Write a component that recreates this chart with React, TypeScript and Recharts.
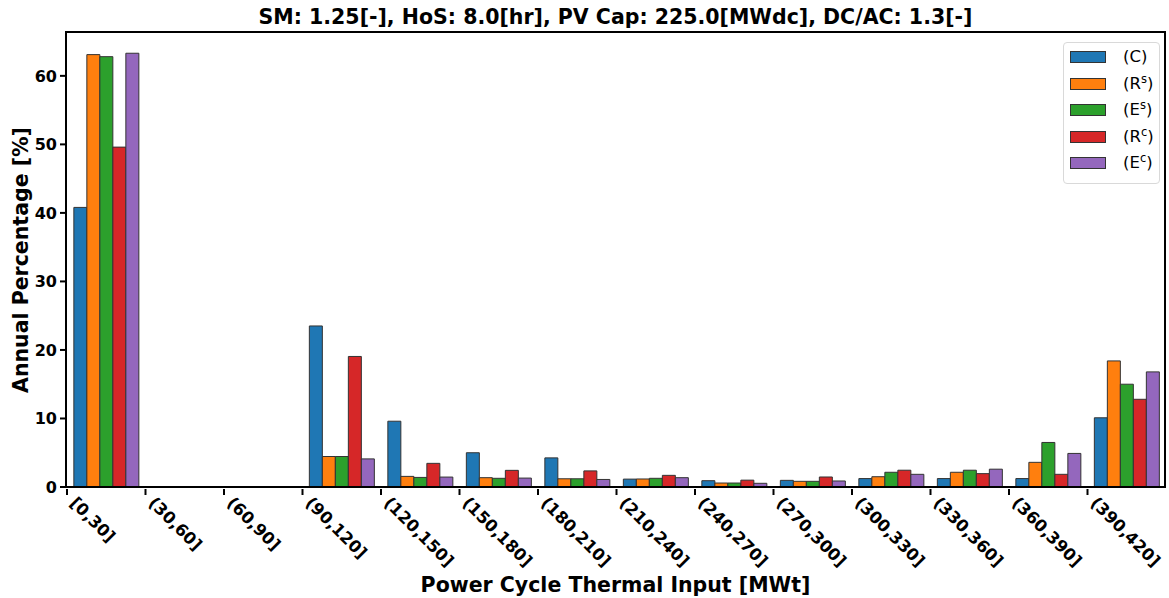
import { BarChart, Bar, XAxis, YAxis } from 'recharts';

// Power cycle thermal input bins [MWt]
const categories = [
  '[0,30]', '(30,60]', '(60,90]', '(90,120]', '(120,150]', '(150,180]', '(180,210]',
  '(210,240]', '(240,270]', '(270,300]', '(300,330]', '(330,360]', '(360,390]', '(390,420]',
];

// annual percentage [%] per bin
const seriesC = [40.8, 0, 0, 23.5, 9.6, 5.0, 4.25, 1.15, 0.92, 0.97, 1.23, 1.23, 1.23, 10.1];
const seriesRs = [63.1, 0, 0, 4.45, 1.55, 1.36, 1.2, 1.17, 0.58, 0.83, 1.5, 2.15, 3.6, 18.4];
const seriesEs = [62.8, 0, 0, 4.45, 1.4, 1.27, 1.2, 1.27, 0.58, 0.83, 2.15, 2.45, 6.5, 15.0];
const seriesRc = [49.6, 0, 0, 19.05, 3.45, 2.43, 2.35, 1.7, 1.0, 1.46, 2.45, 1.95, 1.85, 12.8];
const seriesEc = [63.3, 0, 0, 4.1, 1.45, 1.3, 1.1, 1.36, 0.54, 0.88, 1.85, 2.6, 4.9, 16.8];

const yTicks = [0, 10, 20, 30, 40, 50, 60];

const series = [
  { key: 'C', base: 'C', sup: '', color: '#1f77b4' },
  { key: 'Rs', base: 'R', sup: 's', color: '#ff7f0e' },
  { key: 'Es', base: 'E', sup: 's', color: '#2ca02c' },
  { key: 'Rc', base: 'R', sup: 'c', color: '#d62728' },
  { key: 'Ec', base: 'E', sup: 'c', color: '#9467bd' },
];

const data = categories.map((name, i) => ({
  name,
  C: seriesC[i],
  Rs: seriesRs[i],
  Es: seriesEs[i],
  Rc: seriesRc[i],
  Ec: seriesEc[i],
}));

const FONT = '"DejaVu Sans", sans-serif';
const PLOT_LEFT = 66;
const PLOT_RIGHT = 1165;
const PLOT_TOP = 32;
const PLOT_BOTTOM = 487;
const BAND = (PLOT_RIGHT - PLOT_LEFT) / categories.length;

// tick sits on the left edge of each category, label runs down to the right
function XTick(props: any) {
  const { x, y, payload } = props;
  const x0 = x - BAND / 2 + 1;
  const ty = y + 15;
  return (
    <g>
      <line x1={x0} x2={x0} y1={y} y2={y + 6} stroke="#000" strokeWidth={2} />
      <text
        x={x0 + 2}
        y={ty}
        transform={`rotate(45 ${x0 + 2} ${ty})`}
        textAnchor="start"
        fontFamily={FONT}
        fontWeight="bold"
        fontSize={16.5}
        fill="#000"
      >
        {payload.value}
      </text>
    </g>
  );
}

function LegendBox() {
  return (
    <div
      style={{
        position: 'absolute',
        left: 1063,
        top: 42,
        width: 95,
        height: 140,
        border: '1px solid #d9d9d9',
        borderRadius: 4,
        background: 'rgba(255,255,255,0.8)',
        fontFamily: FONT,
        fontSize: 16.5,
      }}
    >
      {series.map((s, i) => (
        <div
          key={s.key}
          style={{ position: 'absolute', left: 0, top: 14 + i * 26.5 - 10, height: 20, width: 95 }}
        >
          <span
            style={{
              position: 'absolute',
              left: 6,
              top: 4,
              width: 34,
              height: 10,
              background: s.color,
              border: '1px solid #333',
            }}
          />
          <span style={{ position: 'absolute', left: 59, top: 0, lineHeight: '20px', whiteSpace: 'nowrap' }}>
            ({s.base}
            {s.sup && <sup style={{ fontSize: 11.5, verticalAlign: 'top', lineHeight: '11px' }}>{s.sup}</sup>})
          </span>
        </div>
      ))}
    </div>
  );
}

export default function App() {
  return (
    <div style={{ position: 'absolute', left: 0, top: 0, width: 1169, height: 598, background: '#fff' }}>
      <div
        style={{
          position: 'absolute',
          left: PLOT_LEFT,
          width: PLOT_RIGHT - PLOT_LEFT,
          top: 5,
          textAlign: 'center',
          fontFamily: FONT,
          fontWeight: 'bold',
          fontSize: 20.5,
          lineHeight: '24px',
        }}
      >
        SM: 1.25[-], HoS: 8.0[hr], PV Cap: 225.0[MWdc], DC/AC: 1.3[-]
      </div>

      <BarChart
        width={1169}
        height={598}
        data={data}
        margin={{ top: PLOT_TOP, right: 1169 - PLOT_RIGHT, left: 0, bottom: 0 }}
        barCategoryGap="10%"
        barGap={0}
      >
        <XAxis
          dataKey="name"
          height={598 - PLOT_BOTTOM}
          interval={0}
          tick={<XTick />}
          tickLine={false}
          tickSize={0}
          axisLine={{ stroke: '#000', strokeWidth: 2 }}
        />
        <YAxis
          width={PLOT_LEFT}
          domain={[0, 66.4]}
          ticks={yTicks}
          interval={0}
          tickSize={6}
          tickMargin={3}
          tickLine={{ stroke: '#000', strokeWidth: 2 }}
          axisLine={{ stroke: '#000', strokeWidth: 2 }}
          tick={{ fill: '#000', fontFamily: FONT, fontWeight: 'bold', fontSize: 16 }}
        />
        {series.map((s) => (
          <Bar
            key={s.key}
            dataKey={s.key}
            fill={s.color}
            stroke="#333"
            strokeWidth={1}
            isAnimationActive={false}
          />
        ))}
      </BarChart>

      {/* top and right spines */}
      <div
        style={{
          position: 'absolute',
          left: PLOT_LEFT - 1,
          top: PLOT_TOP - 1,
          width: PLOT_RIGHT - PLOT_LEFT,
          height: PLOT_BOTTOM - PLOT_TOP,
          borderTop: '2px solid #000',
          borderRight: '2px solid #000',
          pointerEvents: 'none',
        }}
      />

      <div
        style={{
          position: 'absolute',
          left: PLOT_LEFT,
          width: PLOT_RIGHT - PLOT_LEFT,
          top: 573,
          textAlign: 'center',
          fontFamily: FONT,
          fontWeight: 'bold',
          fontSize: 20.5,
          lineHeight: '24px',
        }}
      >
        Power Cycle Thermal Input [MWt]
      </div>

      <div
        style={{
          position: 'absolute',
          left: 21 - 200,
          top: (PLOT_TOP + PLOT_BOTTOM) / 2 - 12,
          width: 400,
          height: 24,
          lineHeight: '24px',
          textAlign: 'center',
          transform: 'rotate(-90deg)',
          fontFamily: FONT,
          fontWeight: 'bold',
          fontSize: 20.5,
        }}
      >
        Annual Percentage [%]
      </div>

      <LegendBox />
    </div>
  );
}
